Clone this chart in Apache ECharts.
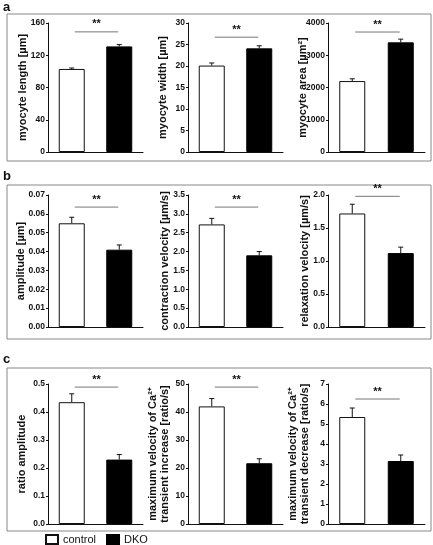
<!DOCTYPE html>
<html><head><meta charset="utf-8">
<script src="https://cdn.jsdelivr.net/npm/echarts@6/dist/echarts.min.js"></script>
<style>html,body{margin:0;padding:0;background:#fff}#c{width:433px;height:545px}</style>
</head><body><div id="c"></div>
<script>
const categories = ['control', 'DKO'];
// panel a
const lengthMean = [103, 131], lengthErr = [1.2, 2.2];
const widthMean = [20.1, 24.1], widthErr = [0.6, 0.6];
const areaMean = [2200, 3400], areaErr = [70, 100];
// panel b
const amplitudeMean = [0.055, 0.041], amplitudeErr = [0.0032, 0.0025];
const contractionMean = [2.72, 1.9], contractionErr = [0.16, 0.1];
const relaxationMean = [1.72, 1.12], relaxationErr = [0.14, 0.09];
// panel c
const ratioMean = [0.435, 0.23], ratioErr = [0.03, 0.018];
const increaseMean = [42, 21.7], increaseErr = [2.8, 1.6];
const decreaseMean = [5.35, 3.15], decreaseErr = [0.45, 0.3];
// significance bar heights (data units)
const sigLevels = [149, 26.7, 3720, 0.0636, 3.18, 1.98, 0.489, 48.9, 6.25];
const sigLabel = '**';

const yMax = [160, 30, 4000, 0.07, 3.5, 2.0, 0.5, 50, 7];
const yInterval = [40, 5, 1000, 0.01, 0.5, 0.5, 0.1, 10, 1];
const yDigits = [0, 0, 0, 2, 1, 1, 1, 0, 0];
const yNames = [
  'myocyte length [µm]', 'myocyte width [µm]', 'myocyte area [µm²]',
  'amplitude [µm]', 'contraction velocity [µm/s]', 'relaxation velocity [µm/s]',
  'ratio amplitude', 'maximum velocity of Ca²⁺\ntransient increase [ratio/s]',
  'maximum velocity of Ca²⁺\ntransient decrease [ratio/s]'
];
const means = [lengthMean, widthMean, areaMean, amplitudeMean, contractionMean, relaxationMean, ratioMean, increaseMean, decreaseMean];
const errs = [lengthErr, widthErr, areaErr, amplitudeErr, contractionErr, relaxationErr, ratioErr, increaseErr, decreaseErr];

const colLeft = [48, 188, 328];
const colWidth = [95, 95, 97];
const rowTop = [23, 195, 384];
const rowHeight = [129, 132, 140];
const nameGaps = [19, 19, 19, 21.5, 17.5, 17.5, 20.5, 17, 17];

const FONT = 'Liberation Sans, Arial, sans-serif';
const grids = [], xAxes = [], yAxes = [], series = [];
for (let i = 0; i < 9; i++) {
  const r = Math.floor(i / 3), c = i % 3;
  grids.push({left: colLeft[c], top: rowTop[r], width: colWidth[c], height: rowHeight[r], containLabel: false});
  xAxes.push({type: 'category', gridIndex: i, data: categories,
    axisLine: {lineStyle: {color: '#111', width: 1}}, axisTick: {show: false}, axisLabel: {show: false}});
  const d = yDigits[i];
  yAxes.push({type: 'value', gridIndex: i, min: 0, max: yMax[i], interval: yInterval[i],
    name: yNames[i], nameLocation: 'middle', nameGap: nameGaps[i], nameMoveOverlap: false,
    nameTextStyle: {fontFamily: FONT, fontWeight: 'bold', fontSize: 11, color: '#111', lineHeight: 12},
    axisLine: {show: true, lineStyle: {color: '#111', width: 1}},
    axisTick: {show: true, length: 2, lineStyle: {color: '#111'}},
    splitLine: {show: false},
    axisLabel: {fontFamily: FONT, fontWeight: 'bold', fontSize: 8.5, color: '#111', margin: 3,
      formatter: v => Number(v).toFixed(d)}});
  const m = means[i];
  series.push({name: 'control', type: 'bar', xAxisIndex: i, yAxisIndex: i, barWidth: 26, barGap: '-100%',
    data: [m[0], null], itemStyle: {color: '#fff', borderColor: '#111', borderWidth: 1}, silent: true});
  series.push({name: 'DKO', type: 'bar', xAxisIndex: i, yAxisIndex: i, barWidth: 26, barGap: '-100%',
    data: [null, m[1]], itemStyle: {color: '#000', borderColor: '#000', borderWidth: 1}, silent: true});
  const e = errs[i];
  series.push({type: 'custom', xAxisIndex: i, yAxisIndex: i, silent: true,
    data: [[0, m[0], m[0] + e[0]], [1, m[1], m[1] + e[1]]],
    renderItem: (params, api) => {
      const p0 = api.coord([api.value(0), api.value(1)]);
      const p1 = api.coord([api.value(0), api.value(2)]);
      return {type: 'group', children: [
        {type: 'line', shape: {x1: p0[0], y1: p0[1], x2: p1[0], y2: p1[1]}, style: {stroke: '#111', lineWidth: 1}},
        {type: 'line', shape: {x1: p1[0] - 2.5, y1: p1[1], x2: p1[0] + 2.5, y2: p1[1]}, style: {stroke: '#111', lineWidth: 1}}
      ]};
    }});
  series.push({type: 'custom', xAxisIndex: i, yAxisIndex: i, silent: true, clip: false,
    data: [[sigLevels[i]]],
    renderItem: (params, api) => {
      const a = api.coord([0, api.value(0)]);
      const b = api.coord([1, api.value(0)]);
      return {type: 'group', children: [
        {type: 'line', shape: {x1: a[0] + 3, y1: a[1], x2: b[0] - 1, y2: a[1]}, style: {stroke: '#777', lineWidth: 1}},
        {type: 'text', style: {text: sigLabel, x: (a[0] + b[0]) / 2 + 1, y: a[1] - 2, align: 'center', verticalAlign: 'bottom',
          font: 'bold 11px ' + FONT, fill: '#111'}}
      ]};
    }});
}

const boxes = [[7, 14, 424, 147], [7, 185, 424, 154], [7, 368, 424, 163]];
const graphics = boxes.map(b => ({type: 'rect', shape: {x: b[0], y: b[1], width: b[2], height: b[3]},
  style: {fill: 'none', stroke: '#888', lineWidth: 1}, silent: true}));
[['a', 1], ['b', 170], ['c', 353]].forEach(t => graphics.push({type: 'text', left: 3, top: t[1],
  style: {text: t[0], font: 'bold 13px ' + FONT, fill: '#111'}}));

const chart = echarts.init(document.getElementById('c'), null, {renderer: 'canvas'});
chart.setOption({
  animation: false,
  grid: grids, xAxis: xAxes, yAxis: yAxes, series: series,
  legend: {data: ['control', 'DKO'], left: 40, top: 529, itemWidth: 12, itemHeight: 9, itemGap: 10,
    icon: 'rect', selectedMode: false,
    textStyle: {fontFamily: FONT, fontSize: 11, color: '#111'}},
  graphic: graphics
});
</script></body></html>
